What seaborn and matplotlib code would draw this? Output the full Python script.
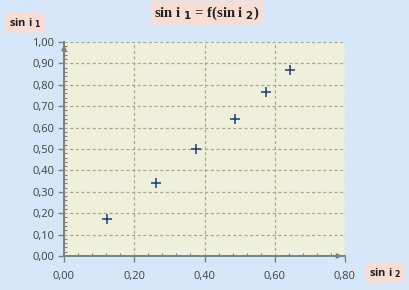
import matplotlib
matplotlib.use("Agg")
import matplotlib.pyplot as plt
import seaborn as sns
import numpy as np
from matplotlib.ticker import MultipleLocator, FuncFormatter

sin_i2 = [0.123, 0.261, 0.377, 0.487, 0.576, 0.644]
sin_i1 = [0.174, 0.343, 0.501, 0.642, 0.768, 0.868]

title_text = "sin i $_{\\mathbf{1}}$ = f(sin i $_{\\mathbf{2}}$)"
ylabel_text = "sin i $_{\\mathbf{1}}$"
xlabel_text = "sin i $_{\\mathbf{2}}$"

sns.set_theme(style="white")
plt.rcParams['font.family'] = ['Open Sans', 'DejaVu Sans']

BG = "#d6e7f9"
PLOT_BG = "#eef0dc"
GRID = "#acac78"
LABEL_BOX = "#f7ddd3"

fig = plt.figure(figsize=(4.1, 2.9), dpi=100, facecolor=BG)
ax = fig.add_axes([64/410, 34/290, (345-64)/410, (256-42)/290])
ax.set_facecolor(PLOT_BG)

sns.scatterplot(x=sin_i2, y=sin_i1, marker="+", s=55, color="#1f3a78",
                linewidth=1.1, ax=ax, zorder=5, clip_on=False)

ax.set_xlim(0, 0.8)
ax.set_ylim(0, 1.0)
ax.xaxis.set_major_locator(MultipleLocator(0.2))
ax.xaxis.set_minor_locator(MultipleLocator(0.04))
ax.yaxis.set_major_locator(MultipleLocator(0.1))
ax.yaxis.set_minor_locator(MultipleLocator(0.02))
fmt = FuncFormatter(lambda v, p: f"{v:.2f}".replace(".", ","))
ax.xaxis.set_major_formatter(fmt)
ax.yaxis.set_major_formatter(fmt)

ax.grid(True, which="major", color=GRID, linestyle=(0, (2.5, 2)), linewidth=0.9)
ax.set_axisbelow(True)

for s in ["top", "right"]:
    ax.spines[s].set_visible(False)
for s in ["left", "bottom"]:
    ax.spines[s].set_color("#7f7f7f")
    ax.spines[s].set_linewidth(1.4)

ax.tick_params(axis="both", which="major", direction="out", length=4, width=1,
               color="#7f7f7f", labelsize=8, labelcolor="#404040", pad=3)
ax.tick_params(axis="both", which="minor", direction="in", length=2.5, width=0.8,
               color="#7f7f7f")
ax.tick_params(axis="x", which="both", bottom=True)
ax.tick_params(axis="y", which="both", left=True)
ax.tick_params(axis="x", pad=7)

# axis arrows
ax.annotate("", xy=(0, 1.0), xytext=(0, 0.97), xycoords="axes fraction",
            arrowprops=dict(arrowstyle="-|>", color="#7f7f7f", lw=1.2,
                            mutation_scale=7))
ax.annotate("", xy=(1.0, 0), xytext=(0.97, 0), xycoords="axes fraction",
            arrowprops=dict(arrowstyle="-|>", color="#7f7f7f", lw=1.2,
                            mutation_scale=7))

ax.set_xlabel("")
ax.set_ylabel("")

fig.text(207/410, 1 - 13/290, title_text, ha="center", va="center",
         fontsize=10.5, fontweight="bold", family=["Liberation Serif"], color="#202020",
         bbox=dict(boxstyle="square,pad=0.2", fc=LABEL_BOX, ec="none"))
fig.text(25/410, 1 - 23/290, ylabel_text, ha="center", va="center",
         fontsize=8, fontweight="bold", color="#202020",
         bbox=dict(boxstyle="square,pad=0.3", fc=LABEL_BOX, ec="none"))
fig.text(385/410, 1 - 273/290, xlabel_text, ha="center", va="center",
         fontsize=8, fontweight="bold", color="#202020",
         bbox=dict(boxstyle="square,pad=0.3", fc=LABEL_BOX, ec="none"))

fig.savefig("out.png", dpi=100, facecolor=BG)
